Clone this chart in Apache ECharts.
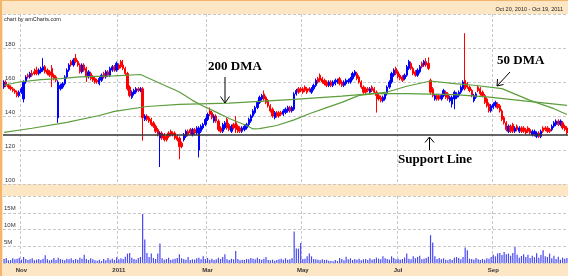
<!DOCTYPE html>
<html><head><meta charset="utf-8">
<script src="https://cdn.jsdelivr.net/npm/echarts@6/dist/echarts.min.js"></script>
<style>html,body{margin:0;padding:0;background:#fce6c3;}#c{width:568px;height:276px;}</style>
</head><body><div id="c"></div>
<script>
// trading days (weekdays) Oct 20, 2010 - Oct 19, 2011
const dates = [];
for (let t = Date.UTC(2010, 9, 20); t <= Date.UTC(2011, 9, 19); t += 86400000) {
  const d = new Date(t), wd = d.getUTCDay();
  if (wd === 0 || wd === 6) continue;
  dates.push(d.toISOString().slice(0, 10));
}
const monthLabels = {'2010-11-01':'Nov','2011-01-03':'2011','2011-03-01':'Mar','2011-05-02':'May','2011-07-01':'Jul','2011-09-01':'Sep'};
const priceTicks = [100, 120, 140, 160, 180, 200];
const volumeTicksM = [0, 5, 10, 15, 20];

// [open, close, low, high]
const ohlc = [
[157,160,156,161],[160,158,157,161],[158,157,156,159],[157,156,155,158],[156,155,154,157],
[155,154,153,156],[154,152,151,155],[152,154,151,155],[154,156,153,157],[150,160,148,161],
[160,163,159,164],[164,163,162,165],[163,165,162,166],[165,164,163,167],[166,165,164,168],
[167,165,164,169],[165,167,164,168],[166,168,165,169],[167,169,166,174],[169,166,165,170],
[167,165,164,168],[166,164,163,167],[168,163,157,170],[164,162,161,165],[163,161,160,164],
[139,160,136,161],[156,158,155,159],[157,159,156,160],[159,163,158,164],[163,167,162,168],
[167,170,166,171],[172,170,169,173],[170,173,169,174],[174,172,171,176.5],[172,170,169,173],
[170,166,165,171],[166,170,165,171],[170,167,166,171],[168,163,160,169],[163,166,162,167],
[165,162,161,166],[163,161,160,164],[162,160,159,163],[161,160,159,162],[159,162,158,163],
[161,164,160,165],[165,163,162,166],[163,166,162,167],[166,164,163,167],[164,168,163,169],
[167,169,166,170],[169,167,166,170],[167,171,166,172],[170,168,167,171],[172,169,168,173],
[170,168,167,173],[168,165,164,169],[165,156,155,166],[157,152,151,158],[151,154,150,155],
[153,155,152,156],[154,156,153,157],[156,155,154,157],[155,156,154,157],[156,139,125.5,157],
[138,140,137,141],[140,138,137,141],[139,137,136,140],[138,135,134,139],[136,134,133,137],
[134,131,130,135],[132,129,128,133],[127,130,110,131],[130,127,126,131],[129,126,125,130],
[128,126,125,129],[130,128,127,131],[131,129,128,132],[130,129,128,131],[130,127,126,131],
[128,126,125,129],[127,122,114.6,128],[124,122,121,125],[126,129,125,130],[128,131,127,132],
[131,129,128,132],[132,130,129,133],[129,132,128,133],[132,130,129,133],[130,133,129,134],
[120,133,115.6,134],[131,134,130,135],[133,135,132,136],[135,138,134,139],[138,141,137,142],
[143,141,140,145],[142,139,138,143],[137,140,136,141],[140,137,136,141],[137,132,131,138],
[133,131,130,134],[131,135,130,136],[133,136,132,137],[138,133,132,139],[135,132,131,136],
[131,134,130,135],[135,133,132,136],[136,132,130,140],[134,131,130,135],[133,131,130,134],
[131,133,130,134],[132,134,131,135],[133,135,132,136],[135,138,134,139],[137,140,136,141],
[140,143,139,144],[142,145,141,146],[145,148,144,149],[148,151,147,152],[150,152,149,153],
[153,150,149,155],[151,148,147,152],[149,146,145,150],[146,143,142,147],[144,140,139,145],
[139,142,138,143],[142,140,139,143],[142,140,139,143],[142,141,140,143],[141,143,140,144],
[142,144,141,145],[143,145,142,146],[145,143,142,146],[143,145,142,146],[144,153,143,154],
[153,155,152,156],[156,154,153,157],[156,155,154,157],[156,154,153,157],[157,155,154,158],
[156,154,153,157],[156,155,154,157],[154,156,153,157],[156,158,155,159],[158,161,157,162],
[162,160,159,163],[164,161,160,165],[162,160,159,163],[161,159,158,162],[160,158,157,161],
[158,160,157,161],[160,158,157,161],[158,160,157,161],[159,161,158,162],[160,161,159,162],
[162,159,158,163],[160,158,157,161],[158,160,157,161],[159,161,158,162],[160,161,159,162],
[160,162,159,163],[162,165,161,166],[164,166,163,167],[165,162,161,166],[163,160,159,164],
[160,157,156,161],[157,154,153,158],[156,154,153,157],[156,155,154,157],[154,156,153,157],
[157,155,154,158],[156,154,153,157],[154,152,142,155],[152,150,149,153],[151,149,148,152],
[149,151,148,152],[150,153,149,154],[153,157,152,158],[157,160,156,161],[160,165,159,166],
[164,167,163,168],[168,165,164,169],[166,163,162,167],[164,162,161,165],[163,161,160,164],
[162,164,161,165],[164,169,163,170],[168,172,167,173],[171,168,167,172],[168,165,164,169],
[166,164,163,167],[164,167,163,168],[166,169,165,170],[171,169,168,172],[170,172,169,173],
[172,170,169,174],[171,168,167,174.5],[161,154,153,162],[156,152,151,157],[150,152,149,153],
[152,150,149,153],[152,150,149,153],[150,152,149,153],[152,155,151,156],[154,151,150,155],
[153,150,149,154],[149,151,148,152],[147,151,145,152],[150,154,144,155],[151,153,150,154],
[152,154,151,155],[154,157,153,158],[156,160,155,161],[161,156,155,188.7],[159,157,156,160],
[157,155,154,158],[155,152,151,156],[149,152,148,153],[151,153,150,154],[157,155,154,158],
[156,153,152,157],[154,152,151,155],[152,148,147,153],[150,146,145,151],[147,143,142,148],
[143,146,142,147],[145,147,144,148],[146,148,145,149],[147,145,144,148],[146,143,142,147],
[143,138,137,144],[139,136,135,140],[136,132,131,137],[131,134,130,135],[134,131,130,135],
[135,131,130,136],[131,133,130,134],[134,132,131,135],[131,133,130,134],[133,131,130,134],
[133,131,130,134],[132,130,129,133],[133,131,130,134],[132,130,129,133],[129,131,128,132],
[129,131,128,132],[128,130,127,131],[130,128,127,131],[128,131,127,132],[133,131,130,134],
[133,132,131,134],[133,131,130,134],[132,131,130,133],[132,134,131,135],[134,136,133,137],
[135,137,134,138],[137,135,134,138],[135,137,134,138],[136,133,132,137],[134,132,131,135],
[133,130,129,134]
];

// volume in millions
const volumeM = [
1.2,1.5,0.8,0.9,1.4,1.1,1.3,1.6,1.0,1.8,
1.2,0.9,1.1,1.4,0.8,1.0,1.2,0.9,1.3,2.3,
1.1,0.8,1.0,1.5,0.9,1.6,1.2,1.0,0.8,1.3,
1.1,1.4,0.9,1.2,1.0,1.6,1.3,2.5,1.2,0.9,
1.4,1.1,0.8,0.7,1.0,0.6,1.2,0.8,1.5,1.0,
1.3,0.9,1.7,1.1,1.4,1.2,1.9,2.8,3.0,1.6,
1.2,1.0,1.5,1.8,14.6,7.0,3.0,1.8,2.8,1.5,
1.2,2.8,5.8,1.4,1.0,1.2,1.6,0.9,1.1,1.3,
1.5,2.6,1.4,1.2,1.0,1.8,0.9,1.1,1.0,1.4,
1.6,1.1,2.0,1.2,1.5,1.0,1.3,0.9,1.1,1.6,
1.2,1.8,2.6,1.1,0.9,1.3,1.1,3.6,1.2,0.8,
1.0,0.9,1.2,1.1,1.5,1.3,1.1,1.6,1.2,1.0,
1.3,1.8,0.9,0.8,1.0,0.7,0.9,1.1,1.3,1.0,
1.4,1.0,1.1,1.5,9.4,4.3,4.3,6.0,1.2,1.3,
2.0,2.8,2.0,1.2,1.1,1.0,0.8,1.1,0.9,1.0,
0.7,0.6,0.5,0.9,0.6,1.5,1.2,0.8,1.9,1.1,
1.4,0.9,1.2,1.0,1.3,0.8,1.1,1.2,0.9,1.4,
1.0,1.2,1.6,1.3,1.1,2.0,1.4,1.2,1.0,2.0,
1.5,1.1,1.3,1.0,1.2,1.6,2.8,1.3,1.1,2.0,
1.4,1.8,2.2,1.1,1.3,1.5,1.9,8.3,6.1,2.0,
1.2,1.5,1.1,1.4,1.0,0.8,1.2,0.9,1.6,1.8,
1.5,1.1,1.8,4.6,3.8,1.3,1.2,1.0,1.5,1.1,
0.9,1.2,1.0,1.4,1.3,1.8,2.5,2.0,2.8,3.0,
2.4,3.3,2.6,2.8,2.2,3.0,4.8,2.5,1.6,2.1,
2.6,1.8,2.5,1.5,2.2,1.7,2.9,1.6,2.4,3.8,
2.0,1.8,2.8,1.4,2.2,1.2,1.9,1.0,1.6,1.3,
1.5
];

// moving averages: [trading-day index, value]
const ma50 = [[0,158.1],[7,160],[17,161.4],[26,162],[35,163],[51,163.6],[63,164.4],[74,158.1],
[81,154.1],[87,149.2],[93,145.2],[98,142.3],[104,138.5],[112,134.4],[115,132.4],[118,132.6],
[126,134.4],[134,137.7],[141,141.3],[149,144.9],[156,148],[164,152.1],[177,154.1],[186,157.5],
[197,160.6],[208,159.1],[217,158.1],[230,156.1],[243,149.2],[254,144.3],[260,140.9]];
const ma200 = [[0,130.4],[13,132.8],[29,136.3],[44,140.3],[51,142.7],[66,145.6],[81,146.8],
[104,147.6],[118,148.6],[134,149.8],[156,151.7],[170,153.2],[186,153.2],[208,152.6],[223,151.2],
[238,149.2],[260,146.2]];
const supportLevel = 128.7;

const chart = echarts.init(document.getElementById('c'), null, {renderer: 'canvas'});
const isMonth = (i, v) => monthLabels.hasOwnProperty(v);
const gridLine = {show: true, lineStyle: {color: '#c8c8c8', type: [3, 2], width: 1}};
const lblFont = {fontFamily: 'Liberation Sans', fontSize: 6, color: '#333'};
const maColor = '#5c9e3c';
const arrow = (pts) => ({type: 'polyline', shape: {points: pts}, style: {stroke: '#000', fill: null, lineWidth: 1}, z: 100});
const note = (txt, x, y) => ({type: 'text', x: x, y: y, style: {text: txt, font: 'bold 13px "Liberation Serif"', fill: '#000', verticalAlign: 'middle'}, z: 100});

chart.setOption({
  animation: false,
  backgroundColor: '#fce6c3',
  grid: [
    {left: 3, right: 0, top: 14, height: 170, show: true, backgroundColor: '#fff', borderWidth: 0},
    {left: 3, right: 0, top: 196, height: 67, show: true, backgroundColor: '#fff', borderWidth: 0}
  ],
  xAxis: [
    {type: 'category', gridIndex: 0, data: dates, boundaryGap: true,
     axisLine: {show: false}, axisTick: {show: false}, axisLabel: {show: false},
     splitLine: Object.assign({interval: isMonth}, gridLine)},
    {type: 'category', gridIndex: 1, data: dates, boundaryGap: true,
     axisLine: {show: false}, axisTick: {show: false},
     axisLabel: Object.assign({interval: isMonth, formatter: v => monthLabels[v] || '', margin: 4, fontWeight: 'bold'}, lblFont),
     splitLine: Object.assign({interval: isMonth}, gridLine)}
  ],
  yAxis: [
    {type: 'value', gridIndex: 0, min: priceTicks[0], max: priceTicks[priceTicks.length - 1], interval: 20,
     axisLine: {show: false}, axisTick: {show: false},
     axisLabel: Object.assign({inside: true, margin: 2, verticalAlign: 'bottom', showMaxLabel: false, padding: [0, 0, 1, 0]}, lblFont),
     splitLine: gridLine},
    {type: 'value', gridIndex: 1, min: volumeTicksM[0], max: volumeTicksM[volumeTicksM.length - 1], interval: 5,
     axisLine: {show: false}, axisTick: {show: false},
     axisLabel: Object.assign({inside: true, margin: 1, verticalAlign: 'bottom', showMaxLabel: false, showMinLabel: false,
       formatter: '{value}M', padding: [0, 0, 1, 0]}, lblFont),
     splitLine: gridLine}
  ],
  series: [
    {type: 'candlestick', xAxisIndex: 0, yAxisIndex: 0, data: ohlc, barWidth: 1.8, z: 3,
     itemStyle: {color: '#0000ff', color0: '#ff0000', borderColor: '#0000ff', borderColor0: '#ff0000', borderWidth: 1},
     markLine: {silent: true, symbol: ['none', 'none'], label: {show: false},
       lineStyle: {color: '#333', width: 1.5, type: 'solid'}, data: [{yAxis: supportLevel}]}},
    {type: 'line', name: '50 DMA', xAxisIndex: 0, yAxisIndex: 0, data: ma50, showSymbol: false, symbol: 'none',
     lineStyle: {color: maColor, width: 1.2}, z: 4},
    {type: 'line', name: '200 DMA', xAxisIndex: 0, yAxisIndex: 0, data: ma200, showSymbol: false, symbol: 'none',
     lineStyle: {color: maColor, width: 1.2}, z: 4},
    {type: 'bar', xAxisIndex: 1, yAxisIndex: 1, data: volumeM, barWidth: 1.2, itemStyle: {color: '#4848f2'}}
  ],
  graphic: [
    {type: 'rect', shape: {x: 0, y: 0, width: 2, height: 276}, style: {fill: '#f5b46a'}, z: 100},
    {type: 'rect', shape: {x: 0, y: 0, width: 568, height: 1}, style: {fill: '#f5b46a'}, z: 100},
    {type: 'text', x: 4, y: 19, style: {text: 'chart by amCharts.com', font: '5.5px "Liberation Sans"', fill: '#222', verticalAlign: 'middle'}, z: 100},
    {type: 'text', x: 563, y: 9, style: {text: 'Oct 20, 2010 - Oct 19, 2011', font: '5.5px "Liberation Sans"', fill: '#222', align: 'right', verticalAlign: 'middle'}, z: 100},
    note('200 DMA', 208, 67),
    arrow([[225, 77], [225, 103]]),
    arrow([[220.5, 96.5], [225, 103], [229.5, 96.5]]),
    note('50 DMA', 497, 61),
    arrow([[510, 72], [497, 86]]),
    arrow([[497.5, 79], [497, 86], [503.5, 84.5]]),
    note('Support Line', 398, 160),
    arrow([[429.5, 150], [429.5, 137]]),
    arrow([[425, 142.5], [429.5, 137], [434, 142.5]])
  ]
});
</script></body></html>
